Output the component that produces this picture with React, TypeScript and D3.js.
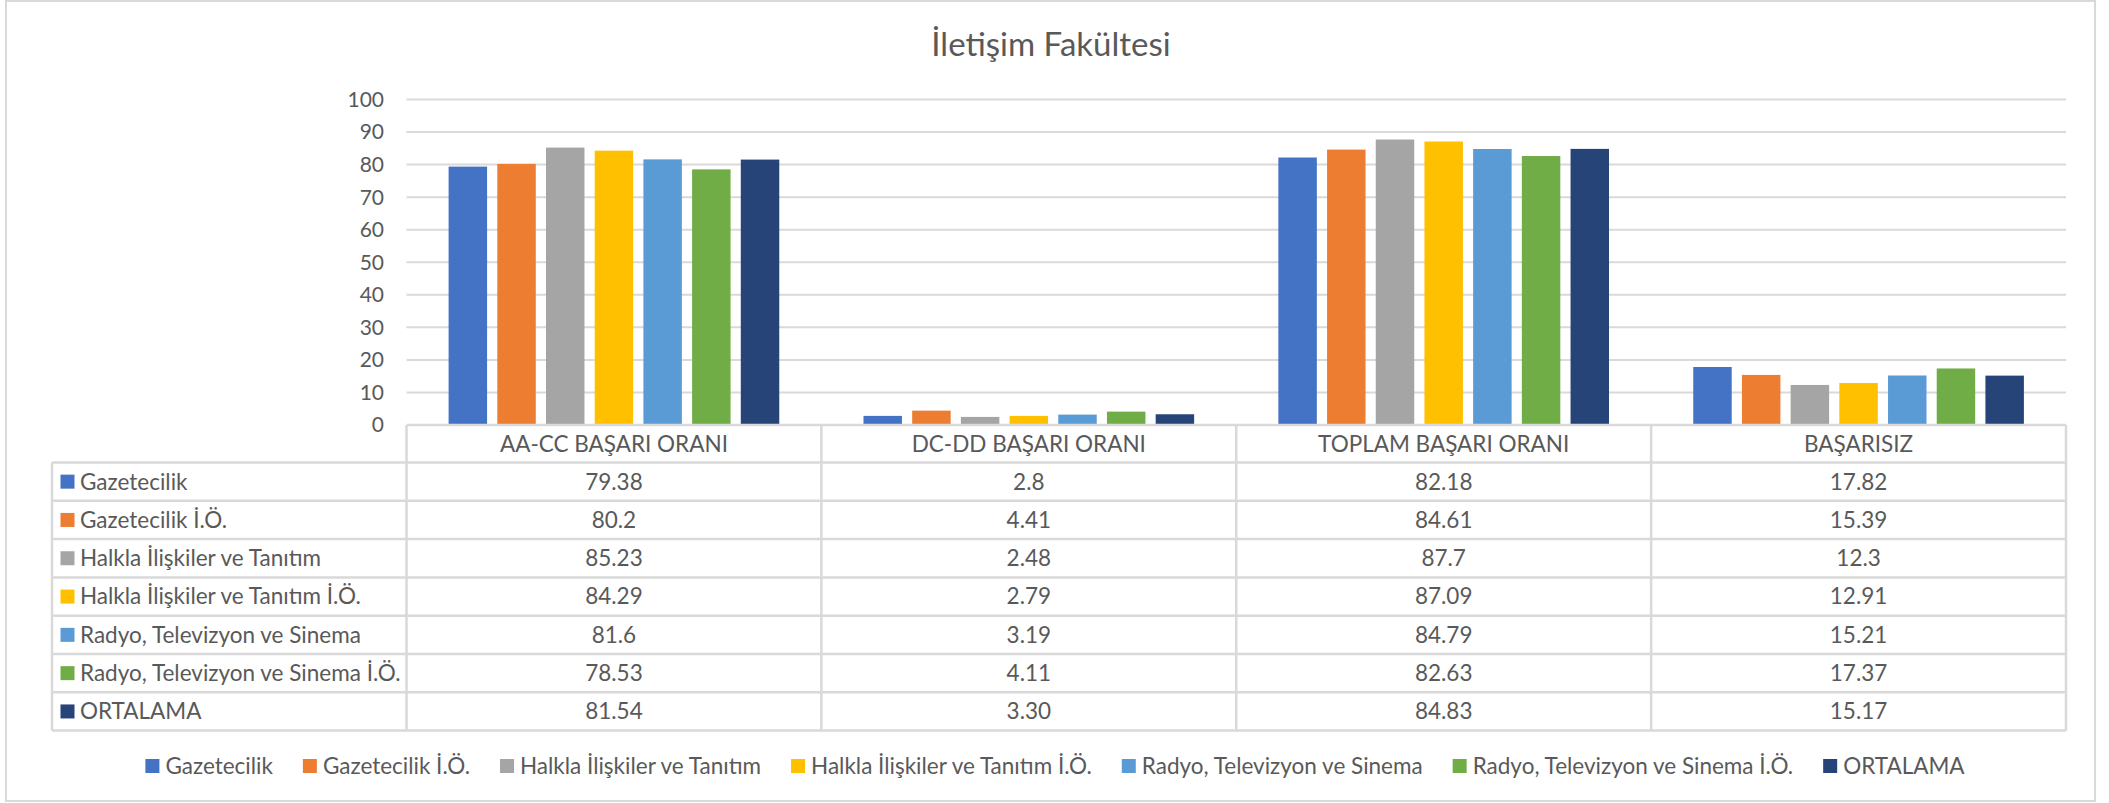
import React, { useEffect, useRef } from 'react';
import * as d3 from 'd3';

const title = 'İletişim Fakültesi';
const categories = ['AA-CC BAŞARI ORANI', 'DC-DD BAŞARI ORANI', 'TOPLAM BAŞARI ORANI', 'BAŞARISIZ'];
const seriesNames = [
  'Gazetecilik',
  'Gazetecilik İ.Ö.',
  'Halkla İlişkiler ve Tanıtım',
  'Halkla İlişkiler ve Tanıtım İ.Ö.',
  'Radyo, Televizyon ve Sinema',
  'Radyo, Televizyon ve Sinema İ.Ö.',
  'ORTALAMA',
];
const gazetecilik = [79.38, 2.8, 82.18, 17.82];
const gazetecilikIO = [80.2, 4.41, 84.61, 15.39];
const halkla = [85.23, 2.48, 87.7, 12.3];
const halklaIO = [84.29, 2.79, 87.09, 12.91];
const radyo = [81.6, 3.19, 84.79, 15.21];
const radyoIO = [78.53, 4.11, 82.63, 17.37];
const ortalama = [81.54, 3.3, 84.83, 15.17];
const seriesValues = [gazetecilik, gazetecilikIO, halkla, halklaIO, radyo, radyoIO, ortalama];
const seriesDecimals = [null, null, null, null, null, null, 2];
const yTicks = [0, 10, 20, 30, 40, 50, 60, 70, 80, 90, 100];
const colors = ['#4472C4', '#ED7D31', '#A5A5A5', '#FFC000', '#5B9BD5', '#70AD47', '#264478'];

const W = 2109;
const H = 803;
const FONT = 'Lato, "Open Sans", sans-serif';
const TEXT = '#595959';
const GRID = '#d9d9d9';
const FS = 22.5;

export default function App() {
  const ref = useRef<SVGSVGElement>(null);

  useEffect(() => {
    document.body.style.margin = '0';
    const svg = d3.select(ref.current);
    svg.selectAll('*').remove();

    const plotLeft = 406.5;
    const plotRight = 2066;
    const y = d3.scaleLinear().domain([0, 100]).range([425, 99.5]);
    const x0 = d3.scaleBand<string>().domain(categories).range([plotLeft, plotRight]);
    const bw = x0.bandwidth();
    const G = bw * 0.797;
    const x1 = d3
      .scaleBand<string>()
      .domain(seriesNames)
      .range([(bw - G) / 2, (bw + G) / 2])
      .paddingInner(0.21)
      .paddingOuter(0);

    svg
      .append('rect')
      .attr('x', 6)
      .attr('y', 1)
      .attr('width', 2089)
      .attr('height', 800)
      .attr('fill', '#fff')
      .attr('stroke', GRID)
      .attr('stroke-width', 2);

    svg
      .append('text')
      .attr('x', 1051)
      .attr('y', 56)
      .attr('text-anchor', 'middle')
      .attr('font-family', FONT)
      .attr('font-size', 33)
      .attr('fill', TEXT)
      .text(title);

    svg
      .append('g')
      .selectAll('line')
      .data(yTicks.filter((t) => t > 0))
      .join('line')
      .attr('x1', plotLeft)
      .attr('x2', plotRight)
      .attr('y1', (d) => y(d))
      .attr('y2', (d) => y(d))
      .attr('stroke', GRID)
      .attr('stroke-width', 2);

    svg
      .append('g')
      .selectAll('text')
      .data(yTicks)
      .join('text')
      .attr('x', 384)
      .attr('y', (d) => y(d))
      .attr('dy', '0.35em')
      .attr('text-anchor', 'end')
      .attr('font-family', FONT)
      .attr('font-size', 21)
      .attr('fill', TEXT)
      .text((d) => String(d));

    const barsG = svg.append('g');
    seriesNames.forEach((s, si) => {
      barsG
        .append('g')
        .selectAll('rect')
        .data(seriesValues[si])
        .join('rect')
        .attr('x', (_d, ci) => (x0(categories[ci]) as number) + (x1(s) as number))
        .attr('width', x1.bandwidth())
        .attr('y', (d) => y(d))
        .attr('height', (d) => y(0) - y(d))
        .attr('fill', colors[si]);
    });

    const tableLeft = 52;
    const headerTop = 425;
    const rowTop0 = 462.5;
    const rowH = 38.3;
    const tableBottom = rowTop0 + rowH * seriesNames.length;
    const tg = svg.append('g');
    tg.append('line')
      .attr('x1', plotLeft)
      .attr('x2', plotRight)
      .attr('y1', headerTop)
      .attr('y2', headerTop)
      .attr('stroke', GRID)
      .attr('stroke-width', 2.5);
    d3.range(seriesNames.length + 1).forEach((i) => {
      tg.append('line')
        .attr('x1', tableLeft)
        .attr('x2', plotRight)
        .attr('y1', rowTop0 + i * rowH)
        .attr('y2', rowTop0 + i * rowH)
        .attr('stroke', GRID)
        .attr('stroke-width', 2.5);
    });
    tg.append('line')
      .attr('x1', tableLeft)
      .attr('x2', tableLeft)
      .attr('y1', rowTop0)
      .attr('y2', tableBottom)
      .attr('stroke', GRID)
      .attr('stroke-width', 2.5);
    categories.forEach((c) => {
      tg.append('line')
        .attr('x1', x0(c) as number)
        .attr('x2', x0(c) as number)
        .attr('y1', headerTop)
        .attr('y2', tableBottom)
        .attr('stroke', GRID)
        .attr('stroke-width', 2.5);
    });
    tg.append('line')
      .attr('x1', plotRight)
      .attr('x2', plotRight)
      .attr('y1', headerTop)
      .attr('y2', tableBottom)
      .attr('stroke', GRID)
      .attr('stroke-width', 2.5);

    tg.selectAll('text.hdr')
      .data(categories)
      .join('text')
      .attr('class', 'hdr')
      .attr('x', (d) => (x0(d) as number) + bw / 2)
      .attr('y', (headerTop + rowTop0) / 2)
      .attr('dy', '0.35em')
      .attr('text-anchor', 'middle')
      .attr('font-family', FONT)
      .attr('font-size', FS)
      .attr('fill', TEXT)
      .text((d) => d);

    seriesNames.forEach((s, si) => {
      const cy = rowTop0 + si * rowH + rowH / 2;
      tg.append('rect')
        .attr('x', 60.5)
        .attr('y', cy - 7)
        .attr('width', 14)
        .attr('height', 14)
        .attr('fill', colors[si]);
      tg.append('text')
        .attr('x', 80)
        .attr('y', cy)
        .attr('dy', '0.35em')
        .attr('font-family', FONT)
        .attr('font-size', FS)
        .attr('fill', TEXT)
        .text(s);
      const dec = seriesDecimals[si];
      tg.append('g')
        .selectAll('text')
        .data(seriesValues[si])
        .join('text')
        .attr('x', (_d, ci) => (x0(categories[ci]) as number) + bw / 2)
        .attr('y', cy)
        .attr('dy', '0.35em')
        .attr('text-anchor', 'middle')
        .attr('font-family', FONT)
        .attr('font-size', FS)
        .attr('fill', TEXT)
        .text((d) => (dec == null ? String(d) : d.toFixed(dec)));
    });

    const lg = svg.append('g');
    const legendY = 766;
    const items = seriesNames.map((s, si) => {
      const g = lg.append('g');
      g.append('rect')
        .attr('x', 0)
        .attr('y', legendY - 7)
        .attr('width', 14)
        .attr('height', 14)
        .attr('fill', colors[si]);
      const t = g
        .append('text')
        .attr('x', 20)
        .attr('y', legendY)
        .attr('dy', '0.35em')
        .attr('font-family', FONT)
        .attr('font-size', FS)
        .attr('fill', TEXT)
        .text(s);
      const w = (t.node() as SVGTextElement).getComputedTextLength();
      return { g, w: 20 + w };
    });
    const gap = 30;
    const total = d3.sum(items, (d) => d.w) + gap * (items.length - 1);
    let cx = 1055 - total / 2;
    items.forEach((it) => {
      it.g.attr('transform', `translate(${cx},0)`);
      cx += it.w + gap;
    });
  }, []);

  return (
    <svg
      ref={ref}
      width={W}
      height={H}
      viewBox={`0 0 ${W} ${H}`}
      style={{ position: 'absolute', left: 0, top: 0, display: 'block' }}
    />
  );
}
